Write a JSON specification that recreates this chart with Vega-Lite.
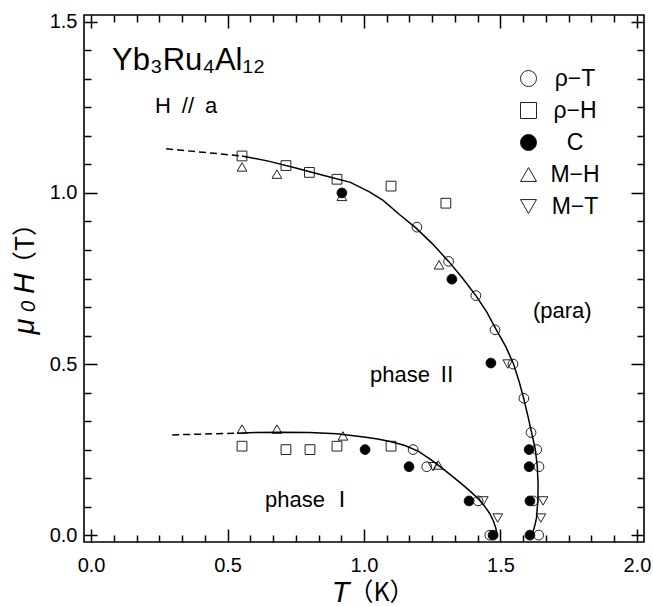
{
  "$schema": "https://vega.github.io/schema/vega-lite/v6.json",
  "width": 560,
  "height": 527,
  "autosize": {"type": "none"},
  "padding": {"left": 84, "top": 15, "right": 9, "bottom": 64},
  "background": "white",
  "config": {
    "view": {"stroke": "black", "strokeWidth": 1.6},
    "axis": {"grid": false, "domain": false, "tickColor": "black", "tickWidth": 1.5, "labelFont": "Liberation Sans", "labelFontSize": 20, "labelColor": "black", "titleColor": "black", "titleFontWeight": "normal", "titleFont": "Liberation Sans"}
  },
  "datasets": {
    "pts": [
      {"s": "ρ−H", "T": 0.553, "H": 1.108}, {"s": "ρ−H", "T": 0.714, "H": 1.08}, {"s": "ρ−H", "T": 0.80, "H": 1.06}, {"s": "ρ−H", "T": 0.901, "H": 1.04}, {"s": "ρ−H", "T": 1.099, "H": 1.02}, {"s": "ρ−H", "T": 1.30, "H": 0.97},
      {"s": "ρ−H", "T": 0.553, "H": 0.26}, {"s": "ρ−H", "T": 0.714, "H": 0.25}, {"s": "ρ−H", "T": 0.802, "H": 0.25}, {"s": "ρ−H", "T": 0.901, "H": 0.26}, {"s": "ρ−H", "T": 1.099, "H": 0.26},
      {"s": "M−H", "T": 0.553, "H": 1.076}, {"s": "M−H", "T": 0.681, "H": 1.055}, {"s": "M−H", "T": 0.919, "H": 0.99}, {"s": "M−H", "T": 1.275, "H": 0.79},
      {"s": "M−H", "T": 0.553, "H": 0.31}, {"s": "M−H", "T": 0.681, "H": 0.31}, {"s": "M−H", "T": 0.923, "H": 0.29}, {"s": "M−H", "T": 1.272, "H": 0.205},
      {"s": "ρ−T", "T": 1.194, "H": 0.90}, {"s": "ρ−T", "T": 1.31, "H": 0.80}, {"s": "ρ−T", "T": 1.41, "H": 0.70}, {"s": "ρ−T", "T": 1.48, "H": 0.60}, {"s": "ρ−T", "T": 1.546, "H": 0.50}, {"s": "ρ−T", "T": 1.586, "H": 0.40}, {"s": "ρ−T", "T": 1.612, "H": 0.30}, {"s": "ρ−T", "T": 1.633, "H": 0.25}, {"s": "ρ−T", "T": 1.641, "H": 0.20}, {"s": "ρ−T", "T": 1.62, "H": 0.10}, {"s": "ρ−T", "T": 1.64, "H": 0.0},
      {"s": "ρ−T", "T": 1.18, "H": 0.25}, {"s": "ρ−T", "T": 1.23, "H": 0.20}, {"s": "ρ−T", "T": 1.418, "H": 0.10}, {"s": "ρ−T", "T": 1.461, "H": 0.0},
      {"s": "M−T", "T": 1.527, "H": 0.50}, {"s": "M−T", "T": 1.656, "H": 0.10}, {"s": "M−T", "T": 1.648, "H": 0.05}, {"s": "M−T", "T": 1.253, "H": 0.20}, {"s": "M−T", "T": 1.437, "H": 0.10}, {"s": "M−T", "T": 1.49, "H": 0.05},
      {"s": "C", "T": 0.919, "H": 1.0}, {"s": "C", "T": 1.322, "H": 0.748}, {"s": "C", "T": 1.465, "H": 0.503}, {"s": "C", "T": 1.605, "H": 0.25}, {"s": "C", "T": 1.605, "H": 0.20}, {"s": "C", "T": 1.608, "H": 0.10}, {"s": "C", "T": 1.608, "H": 0.0},
      {"s": "C", "T": 1.004, "H": 0.25}, {"s": "C", "T": 1.165, "H": 0.20}, {"s": "C", "T": 1.385, "H": 0.10}, {"s": "C", "T": 1.473, "H": 0.0}
    ],
    "upper": [
      {"k": 0, "T": 0.553, "H": 1.108}, {"k": 1, "T": 0.65, "H": 1.093}, {"k": 2, "T": 0.75, "H": 1.073}, {"k": 3, "T": 0.85, "H": 1.052}, {"k": 4, "T": 0.95, "H": 1.031}, {"k": 5, "T": 1.02, "H": 1.003}, {"k": 6, "T": 1.07, "H": 0.978}, {"k": 7, "T": 1.13, "H": 0.937}, {"k": 8, "T": 1.19, "H": 0.898}, {"k": 9, "T": 1.25, "H": 0.852}, {"k": 10, "T": 1.31, "H": 0.80}, {"k": 11, "T": 1.36, "H": 0.752}, {"k": 12, "T": 1.41, "H": 0.70}, {"k": 13, "T": 1.45, "H": 0.652}, {"k": 14, "T": 1.485, "H": 0.60}, {"k": 15, "T": 1.52, "H": 0.55}, {"k": 16, "T": 1.548, "H": 0.50}, {"k": 17, "T": 1.568, "H": 0.45}, {"k": 18, "T": 1.585, "H": 0.40}, {"k": 19, "T": 1.600, "H": 0.35}, {"k": 20, "T": 1.614, "H": 0.30}, {"k": 21, "T": 1.628, "H": 0.25}, {"k": 22, "T": 1.635, "H": 0.20}, {"k": 23, "T": 1.638, "H": 0.15}, {"k": 24, "T": 1.637, "H": 0.10}, {"k": 25, "T": 1.632, "H": 0.05}, {"k": 26, "T": 1.625, "H": 0.025}, {"k": 27, "T": 1.615, "H": 0.0}
    ],
    "lower": [
      {"k": 0, "T": 0.535, "H": 0.298}, {"k": 1, "T": 0.6, "H": 0.300}, {"k": 2, "T": 0.7, "H": 0.301}, {"k": 3, "T": 0.8, "H": 0.300}, {"k": 4, "T": 0.9, "H": 0.296}, {"k": 5, "T": 1.0, "H": 0.287}, {"k": 6, "T": 1.05, "H": 0.281}, {"k": 7, "T": 1.1, "H": 0.273}, {"k": 8, "T": 1.15, "H": 0.262}, {"k": 9, "T": 1.2, "H": 0.245}, {"k": 10, "T": 1.25, "H": 0.218}, {"k": 11, "T": 1.3, "H": 0.187}, {"k": 12, "T": 1.35, "H": 0.155}, {"k": 13, "T": 1.39, "H": 0.128}, {"k": 14, "T": 1.42, "H": 0.105}, {"k": 15, "T": 1.44, "H": 0.087}, {"k": 16, "T": 1.46, "H": 0.064}, {"k": 17, "T": 1.475, "H": 0.04}, {"k": 18, "T": 1.483, "H": 0.02}, {"k": 19, "T": 1.487, "H": 0.005}
    ],
    "dash": [
      {"seg": "a", "k": 0, "T": 0.275, "H": 1.129}, {"seg": "a", "k": 1, "T": 0.553, "H": 1.108},
      {"seg": "b", "k": 0, "T": 0.297, "H": 0.293}, {"seg": "b", "k": 1, "T": 0.535, "H": 0.298}
    ],
    "title": [
      {"label": "Yb₃Ru₄Al₁₂", "T": 0.077, "H": 1.36}
    ],
    "notes": [
      {"label": "H\u2002//\u2002a", "T": 0.234, "H": 1.234},
      {"label": "(para)", "T": 1.619, "H": 0.635},
      {"label": "phase Ⅱ", "T": 1.022, "H": 0.447},
      {"label": "phase Ⅰ", "T": 0.637, "H": 0.082}
    ]
  },
  "resolve": {"axis": {"x": "independent", "y": "independent"}},
  "layer": [
    {
      "data": {"name": "pts"},
      "mark": {"type": "point", "size": 95, "strokeWidth": 1, "filled": true, "opacity": 1},
      "encoding": {
        "x": {"field": "T", "type": "quantitative", "scale": {"domain": [-0.026, 2.026], "nice": false, "zero": false},
          "axis": {"orient": "bottom", "values": [0, 0.5, 1, 1.5, 2], "format": ".1f", "ticks": false, "labelPadding": 13,
            "title": "T", "titleFontStyle": "italic", "titleFontSize": 29, "titleX": 256, "titleY": 59, "titleAlign": "center", "titleBaseline": "alphabetic"}},
        "y": {"field": "H", "type": "quantitative", "scale": {"domain": [-0.02, 1.52], "nice": false, "zero": false},
          "axis": {"orient": "left", "values": [0, 0.5, 1, 1.5], "format": ".1f", "ticks": false, "labelPadding": 7,
            "title": "μ", "titleFontStyle": "italic", "titleFontSize": 29, "titleX": -51, "titleY": 311, "titleAngle": 270, "titleAlign": "center", "titleBaseline": "alphabetic"}},
        "shape": {"field": "s", "type": "nominal",
          "scale": {"domain": ["ρ−T", "ρ−H", "C", "M−H", "M−T"], "range": ["circle", "square", "circle", "triangle-up", "triangle-down"]},
          "legend": {"title": null, "orient": "none", "legendX": 433, "legendY": 52, "symbolSize": 256, "symbolStrokeWidth": 1, "labelFont": "Liberation Sans", "labelFontSize": 23, "labelColor": "black", "labelAlign": "center", "labelOffset": 35, "rowPadding": 8, "padding": 0}},
        "fill": {"field": "s", "type": "nominal",
          "scale": {"domain": ["ρ−T", "ρ−H", "C", "M−H", "M−T"], "range": ["transparent", "transparent", "black", "transparent", "transparent"]},
          "legend": {"title": null, "orient": "none", "legendX": 433, "legendY": 52, "symbolSize": 256, "symbolStrokeWidth": 1, "labelFont": "Liberation Sans", "labelFontSize": 23, "labelColor": "black", "labelAlign": "center", "labelOffset": 35, "rowPadding": 8, "padding": 0}},
        "stroke": {"field": "s", "type": "nominal",
          "scale": {"domain": ["ρ−T", "ρ−H", "C", "M−H", "M−T"], "range": ["#222222", "#222222", "#111111", "#222222", "#222222"]},
          "legend": {"title": null, "orient": "none", "legendX": 433, "legendY": 52, "symbolSize": 256, "symbolStrokeWidth": 1, "labelFont": "Liberation Sans", "labelFontSize": 23, "labelColor": "black", "labelAlign": "center", "labelOffset": 35, "rowPadding": 8, "padding": 0}}
      }
    },
    {
      "data": {"name": "upper"},
      "mark": {"type": "line", "color": "black", "strokeWidth": 1.5},
      "encoding": {
        "x": {"field": "T", "type": "quantitative", "scale": {"domain": [-0.026, 2.026], "nice": false, "zero": false},
          "axis": {"orient": "bottom", "values": [0, 0.5, 1, 1.5, 2], "tickSize": -13, "labels": false,
            "title": "（K）", "titleFont": "Noto Sans CJK JP", "titleFontSize": 25, "titleX": 297, "titleY": 58, "titleAlign": "center", "titleBaseline": "alphabetic"}},
        "y": {"field": "H", "type": "quantitative", "scale": {"domain": [-0.02, 1.52], "nice": false, "zero": false},
          "axis": {"orient": "left", "values": [0, 0.5, 1, 1.5], "tickSize": -13, "labels": false,
            "title": "0", "titleFontStyle": "italic", "titleFontSize": 20, "titleX": -50, "titleY": 291, "titleAngle": 270, "titleAlign": "center", "titleBaseline": "alphabetic"}},
        "order": {"field": "k", "type": "quantitative"}
      }
    },
    {
      "data": {"name": "lower"},
      "mark": {"type": "line", "color": "black", "strokeWidth": 1.5},
      "encoding": {
        "x": {"field": "T", "type": "quantitative", "scale": {"domain": [-0.026, 2.026], "nice": false, "zero": false},
          "axis": {"orient": "bottom", "values": [0.0833, 0.1667, 0.25, 0.3333, 0.4167, 0.5833, 0.6667, 0.75, 0.8333, 0.9167, 1.0833, 1.1667, 1.25, 1.3333, 1.4167, 1.5833, 1.6667, 1.75, 1.8333, 1.9167], "tickSize": -7, "labels": false, "title": null}},
        "y": {"field": "H", "type": "quantitative", "scale": {"domain": [-0.02, 1.52], "nice": false, "zero": false},
          "axis": {"orient": "left", "values": [0.0833, 0.1667, 0.25, 0.3333, 0.4167, 0.5833, 0.6667, 0.75, 0.8333, 0.9167, 1.0833, 1.1667, 1.25, 1.3333, 1.4167], "tickSize": -7, "labels": false,
            "title": "H", "titleFontStyle": "italic", "titleFontSize": 29, "titleX": -51, "titleY": 268, "titleAngle": 270, "titleAlign": "center", "titleBaseline": "alphabetic"}},
        "order": {"field": "k", "type": "quantitative"}
      }
    },
    {
      "data": {"name": "dash"},
      "mark": {"type": "line", "color": "black", "strokeWidth": 1.5, "strokeDash": [7, 4]},
      "encoding": {
        "x": {"field": "T", "type": "quantitative", "scale": {"domain": [-0.026, 2.026], "nice": false, "zero": false},
          "axis": {"orient": "top", "values": [0, 0.5, 1, 1.5, 2], "tickSize": -13, "labels": false, "title": null}},
        "y": {"field": "H", "type": "quantitative", "scale": {"domain": [-0.02, 1.52], "nice": false, "zero": false},
          "axis": {"orient": "right", "values": [0, 0.5, 1, 1.5], "tickSize": -13, "labels": false, "title": null}},
        "detail": {"field": "seg", "type": "nominal"},
        "order": {"field": "k", "type": "quantitative"}
      }
    },
    {
      "data": {"name": "title"},
      "mark": {"type": "text", "align": "left", "baseline": "alphabetic", "font": "Liberation Sans, DejaVu Sans", "fontSize": 31, "color": "black"},
      "encoding": {
        "x": {"field": "T", "type": "quantitative", "scale": {"domain": [-0.026, 2.026], "nice": false, "zero": false},
          "axis": {"orient": "top", "values": [0.0833, 0.1667, 0.25, 0.3333, 0.4167, 0.5833, 0.6667, 0.75, 0.8333, 0.9167, 1.0833, 1.1667, 1.25, 1.3333, 1.4167, 1.5833, 1.6667, 1.75, 1.8333, 1.9167], "tickSize": -7, "labels": false, "title": null}},
        "y": {"field": "H", "type": "quantitative", "scale": {"domain": [-0.02, 1.52], "nice": false, "zero": false},
          "axis": {"orient": "right", "values": [0.0833, 0.1667, 0.25, 0.3333, 0.4167, 0.5833, 0.6667, 0.75, 0.8333, 0.9167, 1.0833, 1.1667, 1.25, 1.3333, 1.4167], "tickSize": -7, "labels": false, "title": null}},
        "text": {"field": "label"}
      }
    },
    {
      "data": {"name": "notes"},
      "mark": {"type": "text", "align": "left", "baseline": "alphabetic", "font": "Liberation Sans, Noto Sans CJK JP", "fontSize": 22, "color": "black"},
      "encoding": {
        "x": {"field": "T", "type": "quantitative", "scale": {"domain": [-0.026, 2.026], "nice": false, "zero": false}, "axis": null},
        "y": {"field": "H", "type": "quantitative", "scale": {"domain": [-0.02, 1.52], "nice": false, "zero": false},
          "axis": {"orient": "left", "ticks": false, "labels": false, "domain": false,
            "title": "（T）", "titleFont": "Noto Sans CJK JP", "titleFontSize": 25, "titleX": -51, "titleY": 228, "titleAngle": 270, "titleAlign": "center", "titleBaseline": "alphabetic"}},
        "text": {"field": "label"}
      }
    }
  ]
}
